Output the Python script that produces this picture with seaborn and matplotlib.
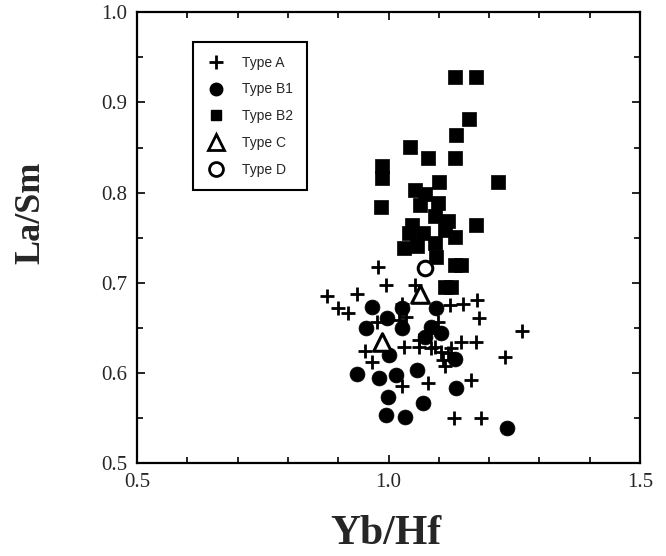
import matplotlib
matplotlib.use("Agg")
import matplotlib.pyplot as plt
import seaborn as sns
import pandas as pd
from matplotlib.lines import Line2D
from matplotlib.ticker import MultipleLocator, FormatStrFormatter

# ---- data ----
typeA_x = [0.978, 0.994, 0.877, 0.938, 0.899, 0.919, 1.052, 1.123, 1.147, 1.175,
           1.179, 1.266, 1.232, 1.173, 1.143, 0.954, 0.966, 1.030, 0.976, 1.034,
           1.026, 1.060, 1.099, 1.093, 1.113, 1.163, 1.026, 1.079, 1.131, 1.183,
           1.125, 1.105, 1.119, 1.109, 1.060, 1.085, 1.020]
typeA_y = [0.718, 0.697, 0.685, 0.688, 0.672, 0.667, 0.698, 0.675, 0.676, 0.681,
           0.661, 0.646, 0.618, 0.634, 0.634, 0.624, 0.612, 0.629, 0.656, 0.662,
           0.677, 0.636, 0.656, 0.629, 0.608, 0.592, 0.586, 0.589, 0.550, 0.550,
           0.628, 0.623, 0.622, 0.614, 0.629, 0.628, 0.659]

typeB1_x = [0.966, 0.996, 0.956, 1.026, 1.026, 1.095, 1.073, 1.105, 1.000, 0.937,
            0.980, 1.014, 1.056, 1.135, 1.133, 0.998, 1.069, 0.994, 1.032, 1.236,
            1.085]
typeB1_y = [0.673, 0.661, 0.650, 0.672, 0.650, 0.672, 0.640, 0.644, 0.620, 0.599,
            0.594, 0.598, 0.603, 0.583, 0.616, 0.573, 0.567, 0.553, 0.551, 0.539,
            0.651]

typeB2_x = [1.133, 1.173, 1.159, 1.135, 1.133, 1.079, 1.101, 1.218, 1.042, 0.986,
            0.986, 0.984, 1.052, 1.073, 1.099, 1.063, 1.093, 1.119, 1.173, 1.046,
            1.040, 1.069, 1.133, 1.030, 1.056, 1.093, 1.113, 1.095, 1.133, 1.143,
            1.113, 1.125]
typeB2_y = [0.928, 0.928, 0.882, 0.864, 0.838, 0.838, 0.812, 0.812, 0.851, 0.830,
            0.816, 0.784, 0.803, 0.799, 0.789, 0.786, 0.774, 0.769, 0.764, 0.764,
            0.755, 0.755, 0.751, 0.739, 0.741, 0.744, 0.758, 0.729, 0.720, 0.720,
            0.695, 0.695]

typeC_x = [1.063, 0.986]
typeC_y = [0.688, 0.634]

typeD_x = [1.073]
typeD_y = [0.716]

labels = ["Type A", "Type B1", "Type B2", "Type C", "Type D"]
x_ticks = [0.5, 1.0, 1.5]
y_ticks = [0.5, 0.6, 0.7, 0.8, 0.9, 1.0]

sns.set_theme(style="ticks")
plt.rcParams["font.family"] = ["Liberation Serif", "DejaVu Serif"]

fig = plt.figure(figsize=(6.66, 5.56), dpi=100)
ax = fig.add_axes([0.206, 0.167, 0.755, 0.811])

def df(x, y):
    return pd.DataFrame({"x": x, "y": y})

sns.scatterplot(data=df(typeB2_x, typeB2_y), x="x", y="y", marker="s", s=105,
                color="black", edgecolor="black", linewidth=0.5, ax=ax, zorder=3)
sns.scatterplot(data=df(typeB1_x, typeB1_y), x="x", y="y", marker="o", s=115,
                color="black", edgecolor="black", linewidth=0.5, ax=ax, zorder=3)
sns.scatterplot(data=df(typeA_x, typeA_y), x="x", y="y", marker="+", s=110,
                color="black", linewidth=2.0, ax=ax, zorder=4)
sns.scatterplot(data=df(typeC_x, typeC_y), x="x", y="y", marker="^", s=160,
                facecolor="white", edgecolor="black", linewidth=2.2, ax=ax, zorder=5)
sns.scatterplot(data=df(typeD_x, typeD_y), x="x", y="y", marker="o", s=110,
                facecolor="white", edgecolor="black", linewidth=2.2, ax=ax, zorder=5)

ax.set_xlim(0.5, 1.5)
ax.set_ylim(0.5, 1.0)
ax.set_xticks(x_ticks)
ax.set_yticks(y_ticks)
ax.xaxis.set_minor_locator(MultipleLocator(0.1))
ax.yaxis.set_minor_locator(MultipleLocator(0.05))
ax.xaxis.set_major_formatter(FormatStrFormatter("%.1f"))
ax.yaxis.set_major_formatter(FormatStrFormatter("%.1f"))
ax.tick_params(which="both", direction="in", top=True, right=True,
               width=1.2, color="black")
ax.tick_params(which="major", length=6, labelsize=15, pad=7)
ax.tick_params(which="minor", length=4)
for sp in ax.spines.values():
    sp.set_linewidth(1.6)
    sp.set_color("black")

ax.set_xlabel("Yb/Hf", fontsize=30, fontweight="bold")
ax.set_ylabel("La/Sm", fontsize=26, fontweight="bold")
ax.xaxis.set_label_coords(0.495, -0.115)
ax.yaxis.set_label_coords(-0.178, 0.555)

handles = [
    Line2D([], [], marker="+", linestyle="", color="black", markersize=10, markeredgewidth=2.0),
    Line2D([], [], marker="o", linestyle="", color="black", markersize=9),
    Line2D([], [], marker="s", linestyle="", color="black", markersize=7.5),
    Line2D([], [], marker="^", linestyle="", markerfacecolor="white", markeredgecolor="black",
           markersize=12, markeredgewidth=2.0),
    Line2D([], [], marker="o", linestyle="", markerfacecolor="white", markeredgecolor="black",
           markersize=10, markeredgewidth=2.0),
]
leg = ax.legend(handles, labels, loc="upper left", bbox_to_anchor=(0.111, 0.933),
                frameon=True, fancybox=False, edgecolor="black", framealpha=1,
                prop={"family": "Liberation Sans", "size": 10},
                labelspacing=0.92, handlelength=1.4, handletextpad=1.2,
                borderpad=0.95, borderaxespad=0)
leg.get_frame().set_linewidth(1.5)

fig.savefig("out.png", dpi=100, facecolor="white")
